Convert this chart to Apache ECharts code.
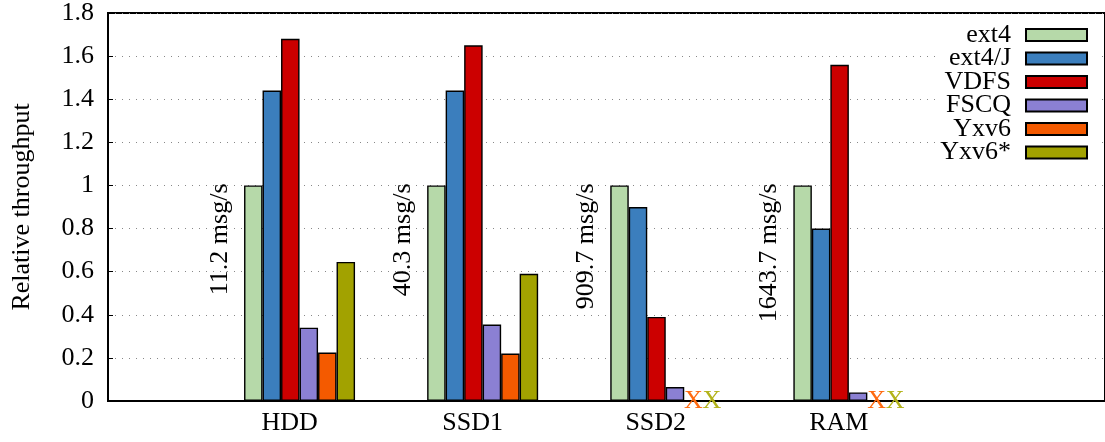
<!DOCTYPE html>
<html>
<head>
<meta charset="utf-8">
<script src="https://cdn.jsdelivr.net/npm/echarts@6/dist/echarts.min.js"></script>
<style>
  html, body { margin: 0; padding: 0; background: #fff; }
  #chart { width: 1105px; height: 442px; }
</style>
</head>
<body>
<div id="chart"></div>
<script>
// storage devices (x categories) and baseline ext4 throughput
const categories = ['HDD', 'SSD1', 'SSD2', 'RAM']
const ext4Rates = ['11.2', '40.3', '909.7', '1643.7']

// relative throughput, null = no result (drawn as X)
const ext4 = [1, 1, 1, 1]
const ext4J = [1.44, 1.44, 0.90, 0.80]
const vdfs = [1.68, 1.65, 0.39, 1.56]
const fscq = [0.34, 0.355, 0.065, 0.04]
const yxv6 = [0.225, 0.22, null, null]
const yxv6Star = [0.645, 0.59, null, null]

const seriesNames = ['ext4', 'ext4/J', 'VDFS', 'FSCQ', 'Yxv6', 'Yxv6*']
const seriesValues = [ext4, ext4J, vdfs, fscq, yxv6, yxv6Star]
const seriesColors = ['#b6d9a9', '#3b7ebd', '#cc0000', '#8b80d3', '#f45a00', '#a2a200']
const markColors = ['#b6d9a9', '#3b7ebd', '#cc0000', '#8b80d3', '#ff6a10', '#b3b31a']

const font = 'Liberation Serif'
const fontSize = 26

function makeSeries(name, values, i) {
  const s = {
    name: name,
    type: 'bar',
    xAxisIndex: 1,
    yAxisIndex: 1,
    barWidth: 18.5,
    barGap: '0%',
    itemStyle: { color: seriesColors[i], borderColor: '#000', borderWidth: 1.4 },
    data: values.map(v => v === null ? {
      value: 0,
      itemStyle: { borderWidth: 0 },
      label: {
        show: true, formatter: 'X', position: 'inside',
        color: markColors[i], fontFamily: font, fontSize: fontSize,
        textBorderWidth: 0
      }
    } : v)
  }
  if (i === 0) {
    s.label = {
      show: true,
      rotate: 90,
      position: [-24, -2],
      align: 'right',
      verticalAlign: 'middle',
      color: '#000',
      fontFamily: font,
      fontSize: fontSize,
      formatter: p => ext4Rates[p.dataIndex] + ' msg/s'
    }
  }
  return s
}

const chart = echarts.init(document.getElementById('chart'))
chart.setOption({
  animation: false,
  textStyle: { fontFamily: font },
  grid: [
    { left: 108, right: -20, top: 13, bottom: 41, show: true, borderColor: '#000', borderWidth: 2 },
    { left: 208, right: 164.6, top: 13, bottom: 41 }
  ],
  xAxis: [
    {
      gridIndex: 0, type: 'value', min: 0, max: 1,
      axisLine: { show: true, lineStyle: { color: '#000', width: 2 } },
      axisTick: { show: false }, axisLabel: { show: false }, splitLine: { show: false }
    },
    {
      gridIndex: 1, type: 'category', data: categories,
      axisLine: { show: false }, axisTick: { show: false },
      axisLabel: { color: '#000', fontFamily: font, fontSize: fontSize, margin: 9, padding: [0, 20, 0, 0] }
    }
  ],
  yAxis: [
    {
      gridIndex: 0, type: 'value', min: 0, max: 1.8, interval: 0.2,
      name: 'Relative throughput', nameLocation: 'middle', nameRotate: 90, nameGap: 73,
      nameTextStyle: { color: '#000', fontFamily: font, fontSize: fontSize },
      axisLine: { show: true, lineStyle: { color: '#000', width: 2 } },
      axisTick: { show: true, inside: true, length: 5, lineStyle: { color: '#000' } },
      axisLabel: { color: '#000', fontFamily: font, fontSize: fontSize, margin: 14 },
      splitLine: { show: true, lineStyle: { color: '#888', width: 1, type: [1, 6] } }
    },
    { gridIndex: 1, type: 'value', min: 0, max: 1.8, show: false }
  ],
  legend: {
    orient: 'vertical',
    right: 7,
    top: 17,
    align: 'right',
    icon: 'rect',
    itemWidth: 61,
    itemHeight: 12,
    itemGap: -2.5,
    padding: [5, 10, 8, 2],
    backgroundColor: '#fff',
    textStyle: { color: '#000', fontFamily: font, fontSize: fontSize, padding: [0, 10, 0, 0] },
    data: seriesNames
  },
  series: seriesNames.map((n, i) => makeSeries(n, seriesValues[i], i))
})
</script>
</body>
</html>
